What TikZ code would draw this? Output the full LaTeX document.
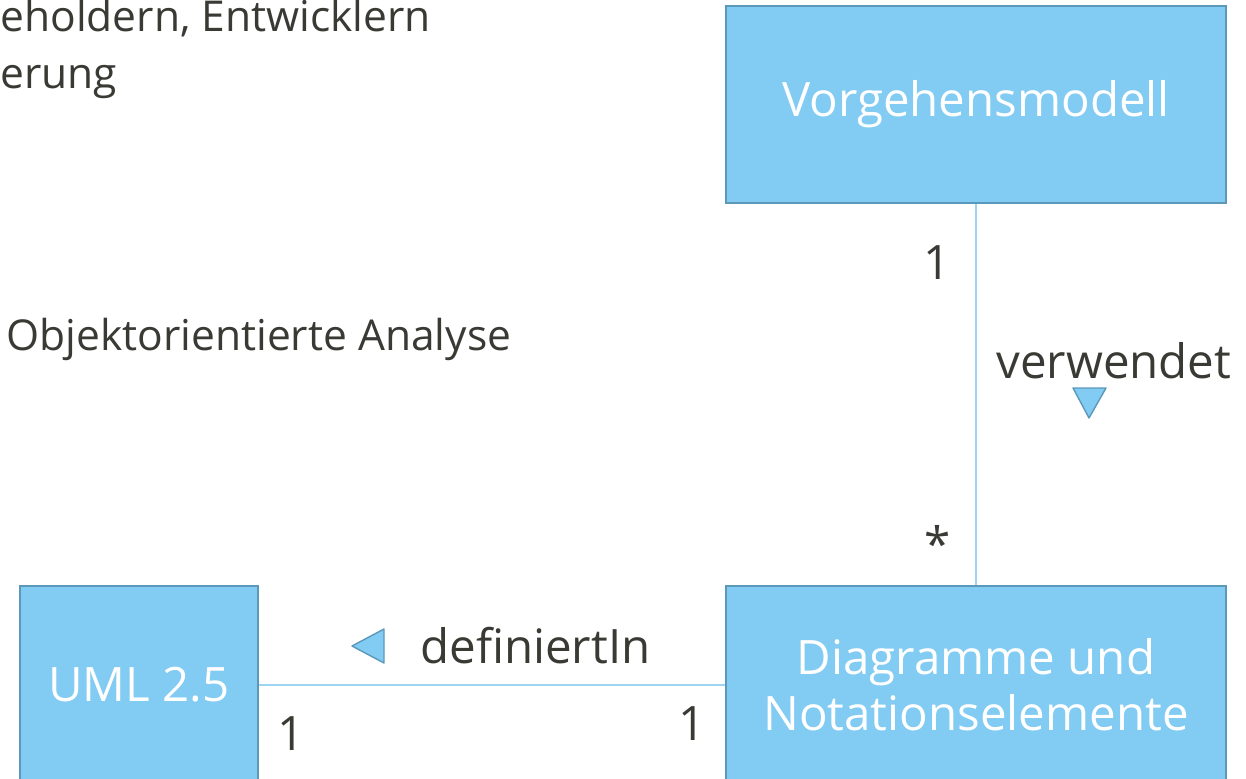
\documentclass[tikz,border=0pt]{standalone}
\usepackage{fontspec}
\setmainfont{Open Sans}
\usetikzlibrary{positioning}
\definecolor{classfill}{HTML}{82CBF2}
\definecolor{classline}{HTML}{5B98BA}
\definecolor{assocline}{HTML}{9DD4F2}
\definecolor{labeltext}{HTML}{3A3A35}

\begin{document}
\begin{tikzpicture}[
    every node/.style={font=\fontsize{27}{32}\selectfont, text=labeltext},
    slidetext/.style={font=\fontsize{24.2}{29}\selectfont, anchor=base west, inner sep=0pt},
    umlclass/.style={draw=classline, line width=1.1pt, fill=classfill,
        text=white, align=center, inner sep=0pt},
    assoc/.style={draw=assocline, line width=0.6pt},
    dirmark/.style={draw=classline, fill=classfill, line width=0.8pt, line join=round}]
    \useasboundingbox (0,0) rectangle (24.92,-15.56);
    \clip (0,0) rectangle (24.92,-15.56);
    % Text from the slide behind
    \node[slidetext] (stake) at (0,-0.64) {eholdern, Entwicklern};
    \node[slidetext] (rung) at (0,-1.78) {erung};
    \node[slidetext] (ooa) at (0.12,-7.0) {Objektorientierte Analyse};
    %
    % Classes
    \node[umlclass, minimum width=10cm, minimum height=3.94cm] (vorg) at (19.52,-2.09) {Vorgehensmodell\vphantom{gy}};
    \node[umlclass, minimum width=4.76cm, minimum height=3.96cm] (uml) at (2.78,-13.7) {UML 2.5};
    \node[umlclass, minimum width=10cm, minimum height=3.96cm] (diag) at (19.52,-13.7) {Diagramme und\\Notationselemente};
    %
    % Associations
    \draw[assoc] (vorg) -- (diag);
    \draw[assoc] (uml) -- (diag);
    % multiplicities and names
    \node[anchor=base, inner sep=0pt] (m1) at (18.74,-5.58) {1};
    \node[inner sep=0pt] (m2) at (18.76,-10.86) {*};
    \node[anchor=base west, inner sep=0pt] (verw) at (19.92,-7.56) {verwendet};
    \node[anchor=base west, inner sep=0pt] (defin) at (8.4,-13.26) {definiertIn};
    \node[anchor=base, inner sep=0pt] (m3) at (5.82,-15.0) {1};
    \node[anchor=base, inner sep=0pt] (m4) at (13.84,-14.8) {1};
    % reading direction
    \draw[dirmark] (21.46,-7.76) -- (22.12,-7.76) -- (21.78,-8.36) -- cycle;
    \draw[dirmark] (7.68,-12.58) -- (7.68,-13.26) -- (7.04,-12.92) -- cycle;
\end{tikzpicture}
\end{document}
